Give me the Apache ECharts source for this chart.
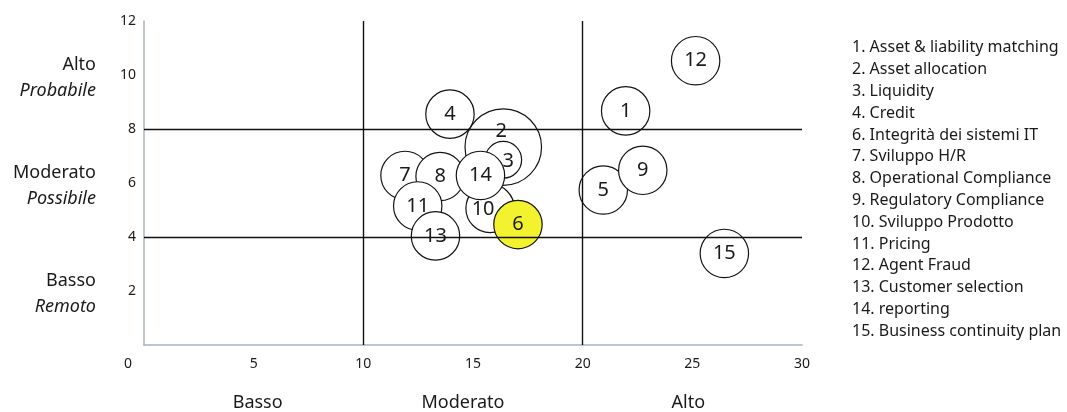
<!DOCTYPE html>
<html>
<head>
<meta charset="utf-8">
<script src="https://cdn.jsdelivr.net/npm/echarts@6/dist/echarts.min.js"></script>
<style>
  html, body { margin: 0; padding: 0; background: #ffffff; }
  #chart { width: 1067px; height: 412px; }
</style>
</head>
<body>
<div id="chart"></div>
<script>
// Risk map: impact (x) vs probability (y), one bubble per risk
const riskIds     = [1, 2, 3, 4, 5, 6, 7, 8, 9, 10, 11, 12, 13, 14, 15];
const impact      = [21.96, 16.38, 16.38, 13.95, 20.94, 17.05, 11.90, 13.50, 22.74, 15.78, 12.48, 25.15, 13.29, 15.34, 26.46];
const probability = [8.67, 7.33, 6.86, 8.55, 5.74, 4.46, 6.28, 6.24, 6.47, 5.06, 5.15, 10.53, 4.04, 6.28, 3.39];
const weight      = [4, 10, 2.3, 4, 4, 4, 4, 4, 4, 4, 4, 4, 4, 4, 4];
const highlighted = [6];

// Stacking order (later ids are painted over earlier ones)
const drawOrder = [2, 3, 12, 1, 4, 5, 9, 15, 7, 8, 11, 13, 10, 14, 6];

// Legend entries
const legendLines = [
  '1. Asset & liability matching',
  '2. Asset allocation',
  '3. Liquidity',
  '4. Credit',
  '6. Integrità dei sistemi IT',
  '7. Sviluppo H/R',
  '8. Operational Compliance',
  '9. Regulatory Compliance',
  '10. Sviluppo Prodotto',
  '11. Pricing',
  '12. Agent Fraud',
  '13. Customer selection',
  '14. reporting',
  '15. Business continuity plan'
];

// Axis ticks and band names
const xTicks = [0, 5, 10, 15, 20, 25, 30];
const yTicks = [2, 4, 6, 8, 10, 12];
const xBandAt = [5, 15, 25];
const xBandNames = ['Basso', 'Moderato', 'Alto'];
const yBandAt = [10, 6, 2];
const yBandNames = ['Alto', 'Moderato', 'Basso'];
const yBandSub = ['Probabile', 'Possibile', 'Remoto'];
const xThresholds = [10, 20];
const yThresholds = [4, 8];

const FONT = '"Noto Sans", "Open Sans", sans-serif';
const INK = '#1a1a1a';
const AXIS = '#a7b4bf';

// Hand-nudged label offsets for crowded bubbles
const labelNudge = { 2: [-2, -16], 3: [5, 2], 10: [-7, 1] };

// Horizontal nudges (padding) for the bottom band names
const xBandPad = [[0, 0, 0, 8], [0, 20, 0, 0], [0, 8, 0, 0]];

const bubbleData = drawOrder.map(function (id) {
  const i = riskIds.indexOf(id);
  const item = {
    name: String(id),
    value: [impact[i], probability[i], weight[i]],
    itemStyle: { color: highlighted.indexOf(id) >= 0 ? '#f3f22e' : '#ffffff' }
  };
  if (labelNudge[id]) item.label = { offset: labelNudge[id] };
  return item;
});

const xBandRich = {};
xBandNames.forEach(function (n, k) {
  xBandRich['b' + k] = { fontFamily: FONT, fontSize: 18, color: INK, padding: xBandPad[k] };
});

const chart = echarts.init(document.getElementById('chart'), null, { renderer: 'canvas' });

chart.setOption({
  animation: false,
  backgroundColor: '#ffffff',
  textStyle: { fontFamily: FONT },
  title: {
    text: legendLines.join('\n'),
    left: 847,
    top: 32,
    textStyle: {
      fontFamily: FONT,
      fontSize: 16,
      fontWeight: 'normal',
      color: INK,
      lineHeight: 21.8
    }
  },
  grid: { left: 144, top: 21, width: 658, height: 326, containLabel: false },
  xAxis: [
    {
      type: 'value', min: 0, max: 30, interval: 5,
      axisLine: { show: true, onZero: false, lineStyle: { color: AXIS, width: 1.5 } },
      axisTick: { show: false },
      splitLine: { show: false },
      axisLabel: {
        margin: 12,
        fontFamily: FONT, fontSize: 14, color: INK,
        formatter: function (v) {
          if (xTicks.indexOf(v) < 0) return '';
          return v === 0 ? '{z|0}' : String(v);
        },
        rich: { z: { fontFamily: FONT, fontSize: 14, color: INK, padding: [0, 32, 0, 0] } }
      }
    },
    {
      type: 'value', min: 0, max: 30, interval: 5, position: 'bottom',
      axisLine: { show: false }, axisTick: { show: false }, splitLine: { show: false },
      axisLabel: {
        margin: 49,
        fontFamily: FONT, fontSize: 18, color: INK,
        formatter: function (v) {
          const k = xBandAt.indexOf(v);
          return k >= 0 ? '{b' + k + '|' + xBandNames[k] + '}' : '';
        },
        rich: xBandRich
      }
    }
  ],
  yAxis: [
    {
      type: 'value', min: 0, max: 12, interval: 2,
      axisLine: { show: true, onZero: false, lineStyle: { color: AXIS, width: 1.5 } },
      axisTick: { show: false },
      splitLine: { show: false },
      axisLabel: {
        margin: 8,
        fontFamily: FONT, fontSize: 14, color: INK,
        formatter: function (v) { return yTicks.indexOf(v) >= 0 ? String(v) : ''; }
      }
    },
    {
      type: 'value', min: 0, max: 12, interval: 2, position: 'left',
      axisLine: { show: false }, axisTick: { show: false }, splitLine: { show: false },
      axisLabel: {
        margin: 48,
        align: 'right',
        fontFamily: FONT, fontSize: 18, color: INK, lineHeight: 26,
        padding: [6, 0, 0, 0],
        formatter: function (v) {
          const k = yBandAt.indexOf(v);
          return k >= 0 ? yBandNames[k] + '\n{i|' + yBandSub[k] + '}' : '';
        },
        rich: {
          i: { fontFamily: FONT, fontSize: 18, fontStyle: 'italic', color: INK, lineHeight: 26, align: 'right' }
        }
      }
    }
  ],
  series: [
    {
      // quadrant separators
      type: 'scatter',
      data: [],
      silent: true,
      z: 1,
      markLine: {
        silent: true,
        symbol: ['none', 'none'],
        label: { show: false },
        lineStyle: { color: '#111111', width: 1.4, type: 'solid' },
        data: xThresholds.map(function (v) { return { xAxis: v }; })
          .concat(yThresholds.map(function (v) { return { yAxis: v }; }))
      }
    },
    {
      type: 'scatter',
      z: 3,
      data: bubbleData,
      symbol: 'circle',
      symbolSize: function (val) { return 48.4 * Math.sqrt(val[2] / 4); },
      itemStyle: { borderColor: '#141414', borderWidth: 1.2, opacity: 1 },
      label: {
        show: true,
        position: 'inside',
        formatter: '{b}',
        fontFamily: FONT,
        fontSize: 20,
        color: INK
      },
      emphasis: { disabled: true }
    }
  ]
});
</script>
</body>
</html>
